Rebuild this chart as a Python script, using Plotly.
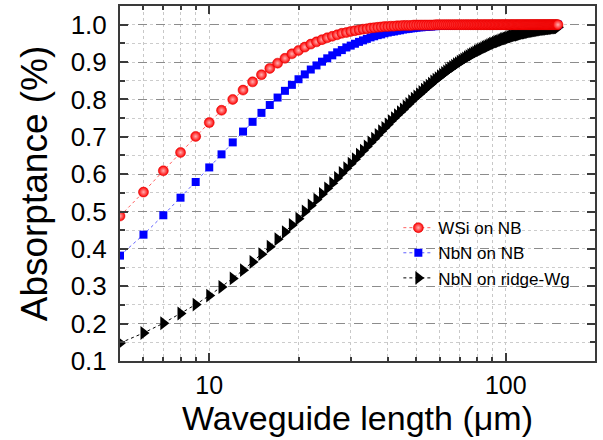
import plotly.graph_objects as go

# Waveguide length (um), 5 .. 150 in steps of 1
length_um = list(range(5, 151))

wsi_nb = [
    0.488, 0.552, 0.609, 0.658, 0.701, 0.738, 0.771, 0.800, 0.825, 0.847, 0.866, 0.883, 0.897, 0.910, 0.922, 0.931,
    0.940, 0.948, 0.954, 0.960, 0.965, 0.969, 0.973, 0.977, 0.979, 0.982,
    0.984, 0.986, 0.988, 0.989, 0.991, 0.992, 0.993, 0.994, 0.995, 0.995,
    0.996, 0.996, 0.997, 0.997, 0.998, 0.998, 0.998, 0.998, 0.999, 0.999,
    0.999, 0.999, 0.999, 0.999, 0.999, 0.999, 0.999,
    1.0, 1.0, 1.0, 1.0, 1.0, 1.0, 1.0, 1.0, 1.0, 1.0,
    1.0, 1.0, 1.0, 1.0, 1.0, 1.0, 1.0, 1.0, 1.0, 1.0,
    1.0, 1.0, 1.0, 1.0, 1.0, 1.0, 1.0, 1.0, 1.0, 1.0,
    1.0, 1.0, 1.0, 1.0, 1.0, 1.0, 1.0, 1.0, 1.0, 1.0,
    1.0, 1.0, 1.0, 1.0, 1.0, 1.0, 1.0, 1.0, 1.0, 1.0,
    1.0, 1.0, 1.0, 1.0, 1.0, 1.0, 1.0, 1.0, 1.0, 1.0,
    1.0, 1.0, 1.0, 1.0, 1.0, 1.0, 1.0, 1.0, 1.0, 1.0,
    1.0, 1.0, 1.0, 1.0, 1.0, 1.0, 1.0, 1.0, 1.0, 1.0,
    1.0, 1.0, 1.0, 1.0, 1.0, 1.0, 1.0, 1.0, 1.0, 1.0,
    1.0, 1.0, 1.0,
]

nbn_nb = [
    0.382, 0.438, 0.490, 0.537, 0.579, 0.618, 0.653, 0.685, 0.714, 0.740, 0.764, 0.785, 0.805, 0.823, 0.839, 0.854,
    0.867, 0.880, 0.891, 0.901, 0.910, 0.918, 0.926, 0.932, 0.939, 0.944,
    0.949, 0.954, 0.958, 0.962, 0.966, 0.969, 0.972, 0.974, 0.977, 0.979,
    0.981, 0.982, 0.984, 0.985, 0.987, 0.988, 0.989, 0.990, 0.991, 0.992,
    0.993, 0.993, 0.994, 0.994, 0.995, 0.995, 0.996, 0.996, 0.997, 0.997,
    0.997, 0.997, 0.998, 0.998, 0.998, 0.998, 0.998, 0.999, 0.999, 0.999,
    0.999, 0.999, 0.999, 0.999, 0.999, 0.999, 0.999, 0.999,
    1.0, 1.0, 1.0, 1.0, 1.0, 1.0, 1.0, 1.0, 1.0, 1.0,
    1.0, 1.0, 1.0, 1.0, 1.0, 1.0, 1.0, 1.0, 1.0, 1.0,
    1.0, 1.0, 1.0, 1.0, 1.0, 1.0, 1.0, 1.0, 1.0, 1.0,
    1.0, 1.0, 1.0, 1.0, 1.0, 1.0, 1.0, 1.0, 1.0, 1.0,
    1.0, 1.0, 1.0, 1.0, 1.0, 1.0, 1.0, 1.0, 1.0, 1.0,
    1.0, 1.0, 1.0, 1.0, 1.0, 1.0, 1.0, 1.0, 1.0, 1.0,
    1.0, 1.0, 1.0, 1.0, 1.0, 1.0, 1.0, 1.0, 1.0, 1.0,
    1.0, 1.0,
]

nbn_ridge = [
    0.148, 0.175, 0.201, 0.227, 0.251, 0.275, 0.298, 0.321, 0.343, 0.365, 0.386, 0.406, 0.426, 0.445, 0.464, 0.481,
    0.500, 0.516, 0.532, 0.547, 0.562, 0.576, 0.590, 0.603, 0.616, 0.628,
    0.640, 0.652, 0.663, 0.674, 0.685, 0.695, 0.705, 0.715, 0.724, 0.733,
    0.742, 0.750, 0.758, 0.766, 0.773, 0.781, 0.788, 0.795, 0.802, 0.808,
    0.814, 0.820, 0.826, 0.832, 0.837, 0.842, 0.848, 0.853, 0.857, 0.862,
    0.866, 0.871, 0.875, 0.879, 0.883, 0.887, 0.890, 0.894, 0.897, 0.901,
    0.904, 0.907, 0.910, 0.913, 0.916, 0.919, 0.921, 0.924, 0.926, 0.929,
    0.931, 0.933, 0.935, 0.937, 0.940, 0.941, 0.943, 0.945, 0.947, 0.949,
    0.950, 0.952, 0.954, 0.955, 0.956, 0.958, 0.959, 0.961, 0.962, 0.963,
    0.964, 0.965, 0.967, 0.968, 0.969, 0.970, 0.971, 0.972, 0.973, 0.973,
    0.974, 0.975, 0.976, 0.977, 0.978, 0.978, 0.979, 0.980, 0.980, 0.981,
    0.982, 0.982, 0.983, 0.983, 0.984, 0.984, 0.985, 0.985, 0.986, 0.986,
    0.987, 0.987, 0.988, 0.988, 0.988, 0.989, 0.989, 0.989, 0.990, 0.990,
    0.990, 0.991, 0.991, 0.991, 0.992, 0.992, 0.992, 0.992, 0.993, 0.993,
]

series_names = ["WSi on NB", "NbN on NB", "NbN on ridge-Wg"]
y_tickvals = [0.1, 0.2, 0.3, 0.4, 0.5, 0.6, 0.7, 0.8, 0.9, 1.0]
y_ticktext = ["0.1", "0.2", "0.3", "0.4", "0.5", "0.6", "0.7", "0.8", "0.9", "1.0"]
x_tickvals = [10, 100]
x_ticktext = ["10", "100"]
x_minor = [6, 7, 8, 9, 20, 30, 40, 50, 60, 70, 80, 90, 200]

FONT = "Liberation Sans, Arial, Helvetica, sans-serif"

fig = go.Figure()
fig.add_trace(go.Scatter(
    x=length_um, y=nbn_ridge, name=series_names[2], mode="lines+markers",
    line=dict(color="black", width=1, dash="dot"),
    marker=dict(symbol="triangle-right", size=12, color="black"),
))
fig.add_trace(go.Scatter(
    x=length_um, y=nbn_nb, name=series_names[1], mode="lines+markers",
    line=dict(color="#6060ff", width=1, dash="dot"),
    marker=dict(symbol="square", size=8, color="#0000ff"),
))
fig.add_trace(go.Scatter(
    x=length_um, y=wsi_nb, name=series_names[0], mode="lines+markers",
    line=dict(color="#ff6060", width=1, dash="dot"),
    marker=dict(symbol="circle", size=10, color="#ff0000",
                gradient=dict(type="radial", color="#ffb0b0"),
                line=dict(width=0.5, color="#dd0000")),
))

axis_line = "#3a3a3a"
fig.update_layout(
    width=603, height=440,
    margin=dict(l=120, r=8, t=4, b=79),
    paper_bgcolor="white", plot_bgcolor="white",
    font=dict(family=FONT, color="black"),
    showlegend=True,
    legend=dict(
        x=0.586, y=0.425, xanchor="left", yanchor="top",
        bgcolor="rgba(0,0,0,0)", traceorder="reversed",
        font=dict(size=17, family=FONT), itemwidth=30,
        tracegroupgap=0,
    ),
    xaxis=dict(
        type="log", range=[0.69897, 2.30103],
        tickmode="array", tickvals=x_tickvals, ticktext=x_ticktext,
        tickfont=dict(size=25), ticks="inside", ticklen=8, tickwidth=1.5,
        tickcolor=axis_line, ticklabelstandoff=1,
        showline=True, linecolor=axis_line, linewidth=2, mirror="ticks",
        showgrid=True, gridcolor="#c8c8c8", gridwidth=1, griddash="dot",
        minor=dict(tickmode="array", tickvals=x_minor, ticks="inside", ticklen=4,
                   tickcolor=axis_line, tickwidth=1.5,
                   showgrid=True, gridcolor="#c8c8c8", griddash="dot", gridwidth=1),
        zeroline=False,
        title=dict(text="Waveguide length (μm)", font=dict(size=34), standoff=5),
    ),
    yaxis=dict(
        range=[0.1, 1.05],
        tickmode="array", tickvals=y_tickvals, ticktext=y_ticktext,
        tickfont=dict(size=26), ticks="inside", ticklen=8, tickwidth=1.5,
        tickcolor=axis_line, ticklabelstandoff=6,
        showline=True, linecolor=axis_line, linewidth=2, mirror="ticks",
        showgrid=True, gridcolor="#8c8c8c", gridwidth=1, griddash="dash",
        minor=dict(dtick=0.05, tick0=0.05, ticks="inside", ticklen=5,
                   tickcolor=axis_line, tickwidth=1.5,
                   showgrid=True, gridcolor="#cccccc", griddash="dot", gridwidth=1),
        zeroline=False,
        title=dict(text="Absorptance (%)", font=dict(size=37), standoff=12),
    ),
)

fig.write_html("out.html")
